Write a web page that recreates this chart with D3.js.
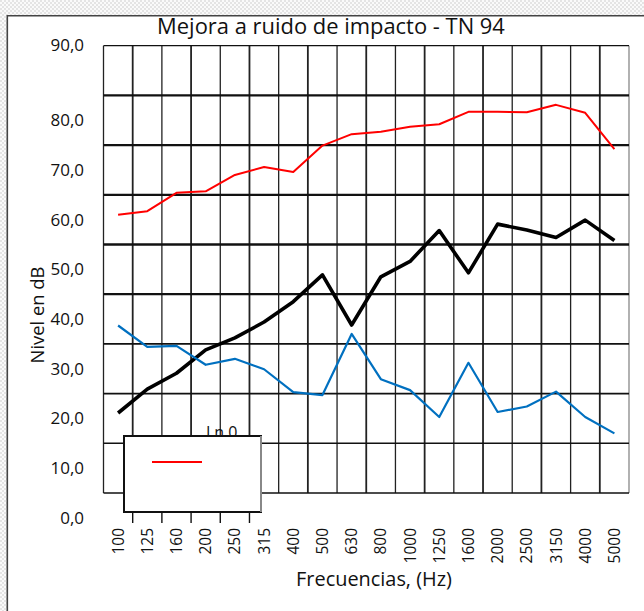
<!DOCTYPE html>
<html>
<head>
<meta charset="utf-8">
<script src="https://cdn.jsdelivr.net/npm/d3@7"></script>
<style>
	body { margin: 0; background: #fff; }
	text { font-family: "Open Sans", "Noto Sans", sans-serif; fill: #111; }
</style>
</head>
<body>
<svg id="chart" width="644" height="611"></svg>
<script>
// data
const freqs = ["100", "125", "160", "200", "250", "315", "400", "500", "630", "800",
	"1000", "1250", "1600", "2000", "2500", "3150", "4000", "5000"];
const redVals = [61.0, 61.7, 65.4, 65.7, 69.0, 70.6, 69.6, 74.9, 77.2, 77.7,
	78.7, 79.2, 81.7, 81.7, 81.6, 83.1, 81.5, 74.2];
const blackVals = [21.1, 25.9, 29.1, 33.8, 36.2, 39.4, 43.5, 48.9, 38.8, 48.5,
	51.6, 57.8, 49.3, 59.1, 57.9, 56.4, 59.9, 55.8];
const blueVals = [38.7, 34.4, 34.6, 30.8, 32.0, 29.9, 25.3, 24.7, 37.0, 27.9,
	25.7, 20.3, 31.2, 21.3, 22.4, 25.4, 20.3, 17.0];
const yTicks = [0, 10, 20, 30, 40, 50, 60, 70, 80];
const topLabel = "90,0";
const gridVals = [5, 15, 25, 35, 45, 55, 65, 75, 85, 95];
const legendLabel = "Ln,0";

/*---------- size ----------*/
const W = 644, H = 611;
const plot = { l: 103.5, r: 629, t: 45.7, b: 493 };
const lgBox = { x: 124, y: 436, w: 137, h: 76 };

const svg = d3.select("#chart");

const x = d3.scaleBand().domain(freqs).range([plot.l, plot.r]);
const y = d3.scaleLinear().domain([5, 95]).range([plot.b, plot.t]);
const cx = (f) => x(f) + x.bandwidth() / 2;
const fmt = (v) => v.toFixed(1).replace(".", ",");

/*---------- backdrop (checker outside the frame) ----------*/
const defs = svg.append("defs");
const pat = defs.append("pattern")
	.attr("id", "chk").attr("width", 4).attr("height", 4)
	.attr("patternUnits", "userSpaceOnUse");
pat.append("rect").attr("width", 4).attr("height", 4).attr("fill", "#fafafa");
pat.append("rect").attr("width", 2).attr("height", 2).attr("fill", "#e4e4e4");
pat.append("rect").attr("x", 2).attr("y", 2).attr("width", 2).attr("height", 2).attr("fill", "#e4e4e4");

svg.append("rect").attr("x", 0).attr("y", 0).attr("width", W).attr("height", 15.7).attr("fill", "url(#chk)");
svg.append("rect").attr("x", 0).attr("y", 0).attr("width", 7.3).attr("height", H).attr("fill", "url(#chk)");
svg.append("rect").attr("x", 7.3).attr("y", 15.7).attr("width", W).attr("height", H).attr("fill", "#fff");

// outer frame
svg.append("path")
	.attr("d", `M7.3,${H}V15.7H${W}`)
	.attr("fill", "none").attr("stroke", "#444").attr("stroke-width", 1.6);

/*---------- grid ----------*/
const grid = svg.append("g");
grid.selectAll("line.v")
	.data(freqs.concat(["end"]))
	.join("line")
	.attr("class", "v")
	.attr("x1", (d) => (d === "end" ? plot.r : x(d)))
	.attr("x2", (d) => (d === "end" ? plot.r : x(d)))
	.attr("y1", plot.t).attr("y2", plot.b)
	.attr("stroke", (d) => (d === "end" ? "#888" : "#222"))
	.attr("stroke-width", (d, i) => (i % 2 ? 1.8 : 1.3));

grid.selectAll("line.h")
	.data(gridVals)
	.join("line")
	.attr("class", "h")
	.attr("x1", plot.l).attr("x2", plot.r)
	.attr("y1", (d) => y(d)).attr("y2", (d) => y(d))
	.attr("stroke", "#111")
	.attr("stroke-width", (d) => (d === 95 ? 1.2 : d >= 45 ? 2.3 : 1.6));

/*---------- lines ----------*/
const line = d3.line().x((d) => cx(d.f)).y((d) => y(d.v));
const series = [
	{ vals: redVals, color: "#ff0000", w: 2 },
	{ vals: blackVals, color: "#000", w: 3.6 },
	{ vals: blueVals, color: "#0070c0", w: 2.2 }
];
series.forEach((s) => {
	svg.append("path")
		.datum(freqs.map((f, i) => ({ f: f, v: s.vals[i] })))
		.attr("d", line)
		.attr("fill", "none")
		.attr("stroke", s.color)
		.attr("stroke-width", s.w)
		.attr("stroke-linejoin", "round");
});

/*---------- y axis labels ----------*/
const yAxis = svg.append("g")
	.attr("transform", `translate(86,0)`)
	.call(d3.axisLeft(y).tickValues(yTicks).tickFormat(fmt).tickSize(0).tickPadding(2));
yAxis.select(".domain").remove();
yAxis.selectAll("text").style("font-size", "17px").style("font-family", null);
yAxis.append("text")
	.attr("x", -2).attr("y", y(y.domain()[1]))
	.attr("dy", "0.32em")
	.attr("text-anchor", "end")
	.style("font-size", "17px")
	.text(topLabel);

/*---------- x axis labels ----------*/
const xAxis = svg.append("g")
	.attr("transform", `translate(0,${plot.b})`)
	.call(d3.axisBottom(x).tickSize(0));
xAxis.select(".domain").remove();
xAxis.selectAll("text")
	.style("font-size", "15.5px").style("font-family", null)
	.attr("transform", "rotate(-90)")
	.attr("x", -35).attr("y", 0).attr("dy", "0.36em")
	.attr("text-anchor", "end");

/*---------- legend box ----------*/
svg.append("text")
	.attr("x", 206).attr("y", 438)
	.style("font-size", "16px")
	.text(legendLabel);
svg.append("rect")
	.attr("x", lgBox.x).attr("y", lgBox.y)
	.attr("width", lgBox.w).attr("height", lgBox.h)
	.attr("fill", "#fff").attr("stroke", "#111").attr("stroke-width", 2);
svg.append("line")
	.attr("x1", lgBox.x + lgBox.w).attr("x2", lgBox.x + lgBox.w)
	.attr("y1", lgBox.y).attr("y2", lgBox.y + lgBox.h)
	.attr("stroke", "#888").attr("stroke-width", 2);
svg.append("line")
	.attr("x1", 152).attr("x2", 202).attr("y1", 462).attr("y2", 462)
	.attr("stroke", "#ff0000").attr("stroke-width", 2);
svg.selectAll("line.tk")
	.data(freqs.filter((f) => x(f) > lgBox.x && x(f) < lgBox.x + lgBox.w))
	.join("line")
	.attr("class", "tk")
	.attr("x1", (d) => x(d)).attr("x2", (d) => x(d))
	.attr("y1", lgBox.y + lgBox.h).attr("y2", lgBox.y + lgBox.h + 11)
	.attr("stroke", "#111").attr("stroke-width", 1.4);

/*---------- titles ----------*/
function fitText(sel, width) {
	let size = parseFloat(sel.style("font-size"));
	const len = sel.node().getComputedTextLength();
	sel.style("font-size", (size * width) / len + "px");
}

const title = svg.append("text")
	.attr("x", 331).attr("y", 34)
	.attr("text-anchor", "middle")
	.style("font-size", "20px")
	.text("Mejora a ruido de impacto - TN 94");
fitText(title, 348);

const xTitle = svg.append("text")
	.attr("x", 374).attr("y", 579)
	.attr("dy", "0.35em")
	.attr("text-anchor", "middle")
	.style("font-size", "18px")
	.text("Frecuencias, (Hz)");
fitText(xTitle, 156);

const yTitle = svg.append("text")
	.attr("transform", "translate(38,315) rotate(-90)")
	.attr("dy", "0.35em")
	.attr("text-anchor", "middle")
	.style("font-size", "18px")
	.text("Nivel en dB");
fitText(yTitle, 97);
</script>
</body>
</html>
